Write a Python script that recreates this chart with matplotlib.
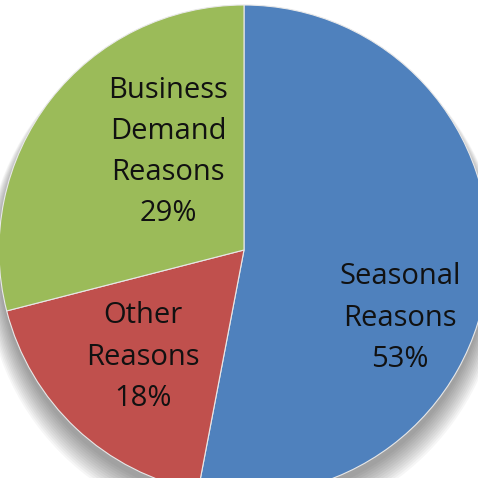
import matplotlib.pyplot as plt
from matplotlib.patches import Circle

labels = ['Seasonal\nReasons\n53%', 'Other\nReasons\n18%', 'Business\nDemand\nReasons\n29%']
shares = [53, 18, 29]
colors = ['#4F81BD', '#C0504D', '#9BBB59']

plt.rcParams['font.family'] = ['Open Sans', 'DejaVu Sans']

fig = plt.figure(figsize=(4.78, 4.78), dpi=100)
ax = fig.add_axes([0, 0, 1, 1])

# soft drop shadow under the pie
for i in range(12):
    off = 0.005 * i
    ax.add_patch(Circle((0.0, -0.03 - off), 1.0 + 0.005 * i, color='#000000',
                        alpha=0.035, lw=0, zorder=0))

wedges, _ = ax.pie(shares, colors=colors, startangle=90, counterclock=False,
                   radius=1.0, wedgeprops=dict(edgecolor='#e8e8e8', linewidth=0.8))

# label positions in data units (pie radius = 1)
pos = [(0.638, -0.278), (-0.412, -0.437), (-0.31, 0.40)]
for txt, (x, y) in zip(labels, pos):
    ax.text(x, y, txt, ha='center', va='center', fontsize=21,
            color='#111111', linespacing=1.56)

R = 245.0
ax.set_xlim(-244 / R, (478 - 244) / R)
ax.set_ylim(-(478 - 250) / R, 250 / R)
ax.set_aspect('auto')
ax.axis('off')

fig.savefig('out.png', dpi=100)
